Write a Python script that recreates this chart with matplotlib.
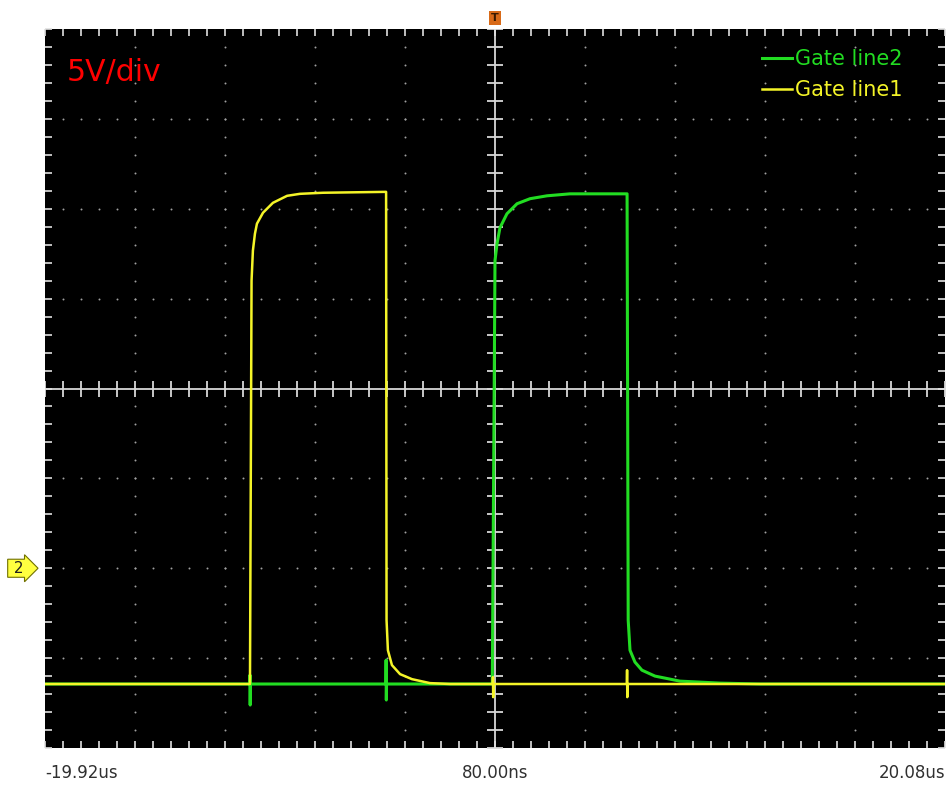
import numpy as np
import matplotlib
matplotlib.use('Agg')
from matplotlib import pyplot as plt
from matplotlib import transforms

# time in us, voltage in V (5V/div, channel 2 ground marker at 0 V)
t_line1 = [-19.92, -10.81, -10.74, -10.68, -10.59, -10.50, -10.23, -9.79, -9.16, -8.59, -7.56,
           -4.76, -4.74, -4.68, -4.50, -4.14, -3.61, -2.81, -1.92,
           -0.02, -0.01, 0.00, 0.01, 5.94, 5.95, 5.96, 5.97, 20.08]
v_line1 = [-6.44, -6.44, 16.0, 17.67, 18.61, 19.17, 19.78, 20.33, 20.72, 20.83, 20.89,
           20.94, -2.89, -4.56, -5.39, -5.89, -6.17, -6.39, -6.44,
           -6.44, -6.06, -7.17, -6.44, -6.44, -5.67, -7.17, -6.44, -6.44]

t_line2 = [-19.92, -10.82, -10.81, -10.80, -10.79, -4.77, -4.76, -4.75, -4.74,
           -0.04, 0.08, 0.17, 0.30, 0.61, 1.06, 1.64, 2.39, 3.41, 5.95,
           6.00, 6.08, 6.30, 6.61, 7.19, 8.30, 10.08, 11.86, 20.08]
v_line2 = [-6.44, -6.44, -5.94, -7.61, -6.44, -6.44, -5.11, -7.33, -6.44,
           -6.44, 17.11, 18.06, 18.94, 19.72, 20.28, 20.56, 20.72, 20.83, 20.83,
           -2.89, -4.56, -5.22, -5.67, -6.0, -6.28, -6.39, -6.44, -6.44]

x_labels = ['-19.92us', '80.00ns', '20.08us']
t_start, t_center, t_end = -19.92, 0.08, 20.08
v_bottom, v_top = -10, 30
t_div, v_div = 4.0, 5.0

fig = plt.figure(figsize=(9.49, 7.85), dpi=100)
fig.patch.set_facecolor('white')
ax = fig.add_axes([45 / 949, 37 / 785, 900 / 949, 719 / 785])
ax.set_facecolor('black')
ax.set_xlim(t_start, t_end)
ax.set_ylim(v_bottom, v_top)
for s in ax.spines.values():
    s.set_visible(False)

# graticule
xmaj = t_start + t_div * np.arange(11)
ymaj = v_bottom + v_div * np.arange(9)
xmin = t_start + t_div / 5 * np.arange(51)
ymin = v_bottom + v_div / 5 * np.arange(41)
v_center = (v_bottom + v_top) / 2
for x in xmaj[1:-1]:
    if abs(x - t_center) > 1e-6:
        ax.scatter(np.full(len(ymin) - 2, x), ymin[1:-1], s=2, color='#a0a0a0', lw=0, zorder=1)
for y in ymaj[1:-1]:
    if abs(y - v_center) > 1e-6:
        ax.scatter(xmin[1:-1], np.full(len(xmin) - 2, y), s=2, color='#a0a0a0', lw=0, zorder=1)
ax.axvline(t_center, color='#d8d8d8', lw=1.3, zorder=1)
ax.axhline(v_center, color='#d8d8d8', lw=1.3, zorder=1)
ax.plot(xmin, np.full(len(xmin), v_center), ls='none', marker='|', ms=11, mew=1.3, color='#d8d8d8', zorder=1)
ax.plot(np.full(len(ymin), t_center), ymin, ls='none', marker='_', ms=12, mew=1.3, color='#d8d8d8', zorder=1)

ax.set_xticks(xmaj)
ax.set_xticks(xmin, minor=True)
ax.set_yticks(ymaj)
ax.set_yticks(ymin, minor=True)
ax.tick_params(which='both', direction='in', top=True, right=True, length=5, width=1.2,
               color='#e0e0e0', labelbottom=False, labelleft=False)

# traces
l2, = ax.plot(t_line2, v_line2, color='#22dd22', lw=2.2, zorder=3, label='Gate line2')
l1, = ax.plot(t_line1, v_line1, color='#f4f428', lw=1.8, zorder=4, label='Gate line1')

ax.legend(handles=[l2, l1], loc='upper right', bbox_to_anchor=(0.962, 0.984), frameon=False,
          fontsize=15, labelcolor='linecolor', handlelength=1.44, handletextpad=0.15,
          labelspacing=0.54, borderaxespad=0)

ax.text(0.0244, 0.939, '5V/div', transform=ax.transAxes, color='red', fontsize=21.5,
        ha='left', va='center')

# x labels
trans = transforms.blended_transform_factory(ax.transData, fig.transFigure)
ax.text(t_start, 1 - 773 / 785, x_labels[0], transform=trans, ha='left', va='center',
        fontsize=12, color='#303030')
ax.text(t_center, 1 - 773 / 785, x_labels[1], transform=trans, ha='center', va='center',
        fontsize=12, color='#303030')
ax.text(t_end, 1 - 773 / 785, x_labels[2], transform=trans, ha='right', va='center',
        fontsize=12, color='#303030')

# trigger and ground markers
ttrans = transforms.blended_transform_factory(ax.transData, ax.transAxes)
ax.text(t_center, 1.0155, 'T', transform=ttrans, ha='center', va='center', fontsize=8,
        fontweight='bold', color='#3a1a00', clip_on=False,
        bbox=dict(boxstyle='square,pad=0.15', fc='#d86a18', ec='none'))
gtrans = transforms.blended_transform_factory(ax.transAxes, ax.transData)
ax.text(-0.029, 0, ' 2 ', transform=gtrans, ha='center', va='center', fontsize=11,
        color='#202020', clip_on=False,
        bbox=dict(boxstyle='rarrow,pad=0.1', fc='#ffff40', ec='#707000', lw=0.8))

fig.savefig('out.png', dpi=100, facecolor='white')
